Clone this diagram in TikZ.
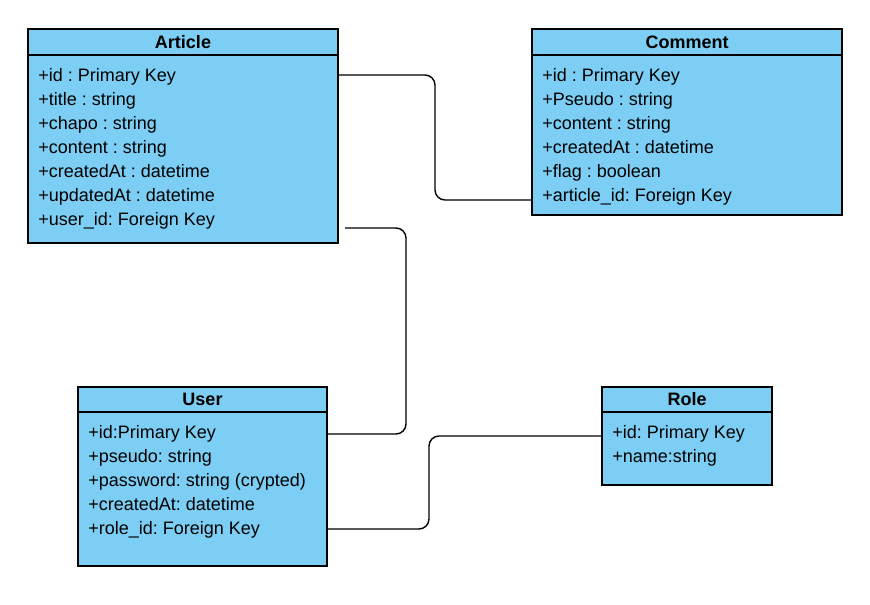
\documentclass[tikz,border=0pt]{standalone}
\usepackage{fontspec}
\setmainfont{Liberation Sans}
\usetikzlibrary{positioning}
\definecolor{umlblue}{RGB}{124,206,244}

\begin{document}
\fontsize{9}{12}\selectfont\frenchspacing
\begin{tikzpicture}[x=0.5pt, y=-0.5pt,
  classhead/.style={draw, fill=umlblue, line width=0.65pt, outer sep=0pt, inner sep=0pt, minimum height=13pt, font=\bfseries},
  classbody/.style={draw, fill=umlblue, line width=0.65pt, outer sep=0pt, inner sep=0pt},
  attrs/.style={anchor=north west, align=left, inner sep=0pt},
  link/.style={line width=0.7pt, rounded corners=5pt}
]
\useasboundingbox (0,0) rectangle (870,604);

\node[classhead, anchor=north west, minimum width=155pt] (article) at (28,29) {Article};
\node[classbody, below=0pt of article, minimum width=155pt, minimum height=94pt] (article-body) {};
\node[attrs] (article-attrs) at ([xshift=5pt, yshift=-6.5pt]article-body.north west)
  {+id : Primary Key\\+title : string\\+chapo : string\\+content : string\\+createdAt : datetime\\+updatedAt : datetime\\+user\_id: Foreign Key};

\node[classhead, anchor=north west, minimum width=155pt] (comment) at (532,29) {Comment};
\node[classbody, below=0pt of comment, minimum width=155pt, minimum height=80pt] (comment-body) {};
\node[attrs] (comment-attrs) at ([xshift=5pt, yshift=-6.5pt]comment-body.north west)
  {+id : Primary Key\\+Pseudo : string\\+content : string\\+createdAt : datetime\\+flag : boolean\\+article\_id: Foreign Key};

\node[classhead, anchor=north west, minimum width=124.5pt, minimum height=12.5pt] (user) at (78,387) {User};
\node[classbody, below=0pt of user, minimum width=124.5pt, minimum height=77pt] (user-body) {};
\node[attrs] (user-attrs) at ([xshift=5pt, yshift=-6.5pt]user-body.north west)
  {+id:Primary Key\\+pseudo: string\\+password: string (crypted)\\+createdAt: datetime\\+role\_id: Foreign Key};

\node[classhead, anchor=north west, minimum width=85pt, minimum height=12.5pt] (role) at (602,387) {Role};
\node[classbody, below=0pt of role, minimum width=85pt, minimum height=36.5pt] (role-body) {};
\node[attrs] (role-attrs) at ([xshift=5pt, yshift=-6.5pt]role-body.north west)
  {+id: Primary Key\\+name:string};

\coordinate (article-id) at ([yshift=-10pt]article-body.north east);
\coordinate (comment-fk) at ([yshift=-72.5pt]comment-body.north west);
\coordinate (article-ref) at (345,228);
\coordinate (user-id) at ([yshift=-11pt]user-body.north east);
\coordinate (user-fk) at ([yshift=-58.5pt]user-body.north east);
\coordinate (role-id) at ([yshift=-12pt]role-body.north west);

\draw[link] (article-id) -| (435,140) |- (comment-fk);
\draw[link] (article-ref) -| (406,330) |- (user-id);
\draw[link] (user-fk) -| (429,480) |- (role-id);
\end{tikzpicture}
\end{document}
